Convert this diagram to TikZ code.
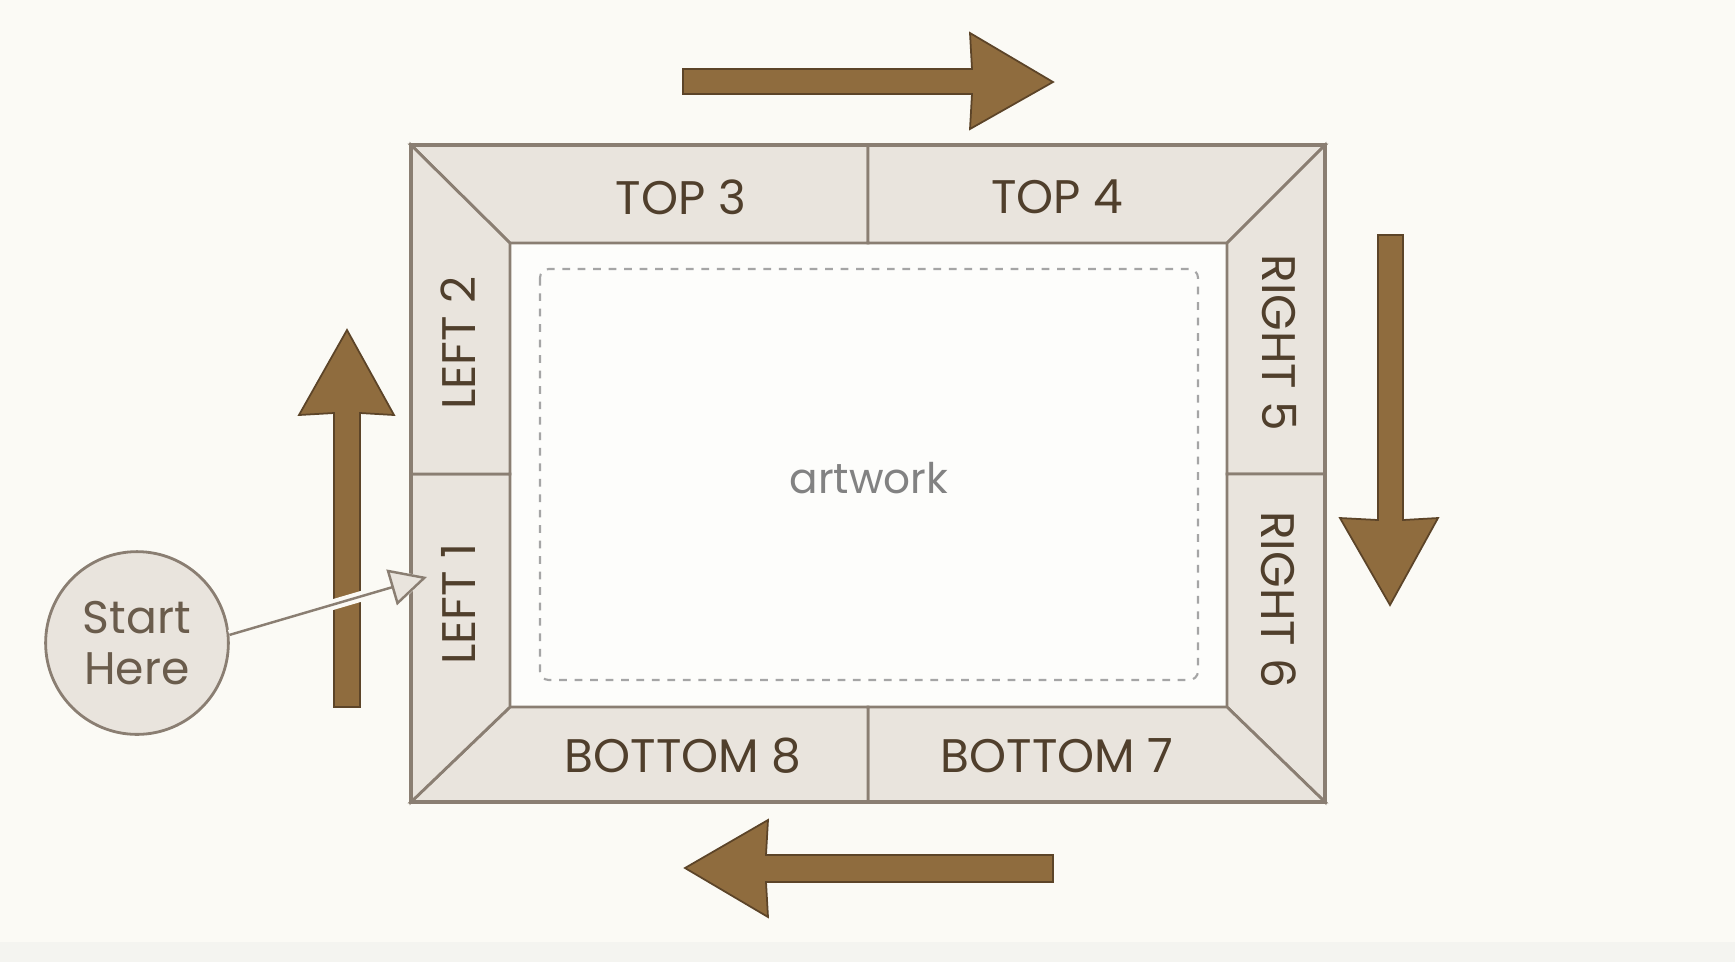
\documentclass[tikz,border=0pt]{standalone}
\usepackage{fontspec}
\setmainfont{Poppins}
\usepackage{xcolor}
\usetikzlibrary{
    arrows.meta,
    positioning
}
\definecolor{bgcrm}{RGB}{251,250,245}
\definecolor{bgstrip}{RGB}{244,244,240}
\definecolor{frmfill}{RGB}{233,228,221}
\definecolor{frmline}{RGB}{138,126,114}
\definecolor{arrbrn}{RGB}{143,108,62}
\definecolor{arrdrk}{RGB}{92,68,40}
\definecolor{lbltxt}{RGB}{80,63,44}
\definecolor{artgry}{RGB}{130,130,130}
\definecolor{dshgry}{RGB}{165,165,165}
\tikzset{
    frmpc/.style={fill=frmfill, draw=frmline, line width=0.8pt, line join=miter},
    flwarr/.style={fill=arrbrn, draw=arrdrk, line width=0.5pt, line join=miter},
    lbl/.style={inner sep=0pt, text=lbltxt, font=\fontsize{13.4}{15}\selectfont},
    strt/.style={circle, minimum size=52pt, inner sep=0pt, fill=frmfill, draw=frmline, line width=0.8pt,
        text=lbltxt!85, align=center, font=\fontsize{13}{14.5}\selectfont}
}

\begin{document}
\begin{tikzpicture}[x=0.1mm, y=-0.1mm]
    \useasboundingbox (0, 0) rectangle (1735, 962);
    \fill[bgcrm] (0, 0) rectangle (1735, 962);
    \fill[bgstrip] (0, 942) rectangle (1735, 962);

    % frame corners
    \coordinate (otl) at (411, 145);
    \coordinate (otr) at (1325, 145);
    \coordinate (obr) at (1325, 802);
    \coordinate (obl) at (411, 802);
    \coordinate (itl) at (510, 243);
    \coordinate (itr) at (1227, 243);
    \coordinate (ibr) at (1227, 707);
    \coordinate (ibl) at (510, 707);

    \fill[white!60!bgcrm] (itl) rectangle (ibr);

    % the eight pieces
    \draw[frmpc] (otl) -- (868, 145) -- (868, 243) -- (itl) -- cycle;
    \draw[frmpc] (868, 145) -- (otr) -- (itr) -- (868, 243) -- cycle;
    \draw[frmpc] (otr) -- (1325, 474) -- (1227, 474) -- (itr) -- cycle;
    \draw[frmpc] (1325, 474) -- (obr) -- (ibr) -- (1227, 474) -- cycle;
    \draw[frmpc] (obr) -- (868, 802) -- (868, 707) -- (ibr) -- cycle;
    \draw[frmpc] (868, 802) -- (obl) -- (ibl) -- (868, 707) -- cycle;
    \draw[frmpc] (obl) -- (411, 474) -- (510, 474) -- (ibl) -- cycle;
    \draw[frmpc] (411, 474) -- (otl) -- (itl) -- (510, 474) -- cycle;
    \draw[frmline, line width=1pt] (otl) rectangle (obr);

    \draw[dshgry, line width=0.6pt, dash pattern=on 2.2pt off 2.2pt, rounded corners=2.5pt]
        (540, 269) rectangle (1198, 680);
    \node[text=artgry, font=\fontsize{12}{14}\selectfont] (art) at (869, 478) {artwork};

    \node[lbl] (top3) at (681, 197) {TOP 3};
    \node[lbl] (top4) at (1057, 197) {TOP 4};
    \node[lbl, rotate=-90] (rgt5) at (1279, 343) {RIGHT 5};
    \node[lbl, rotate=-90] (rgt6) at (1279, 600) {RIGHT 6};
    \node[lbl] (bot7) at (1057, 756) {BOTTOM 7};
    \node[lbl] (bot8) at (683, 756) {BOTTOM 8};
    \node[lbl, rotate=90] (lft1) at (458, 604) {LEFT 1};
    \node[lbl, rotate=90] (lft2) at (458, 343) {LEFT 2};

    % direction arrows
    \draw[flwarr] (683, 69) -- (972, 69) -- (970, 33) -- (1053, 82) -- (970, 129) -- (972, 94) -- (683, 94) -- cycle;
    \draw[flwarr] (1378, 235) -- (1403, 235) -- (1403, 520) -- (1438, 518) -- (1390, 605) -- (1340, 518) -- (1378, 520) -- cycle;
    \draw[flwarr] (1053, 855) -- (1053, 882) -- (766, 882) -- (768, 917) -- (685, 868) -- (768, 820) -- (766, 855) -- cycle;
    \draw[flwarr] (334, 707) -- (334, 413) -- (299, 415) -- (347, 330) -- (394, 415) -- (360, 413) -- (360, 707) -- cycle;

    \node[strt] (start) at (137, 643) {Start\\Here};
    \coordinate (lftpt) at (427, 577);
    \draw[frmline, line width=0.7pt, preaction={draw=bgcrm, line width=3pt},
        -{Triangle[length=10.5pt, width=10.5pt, fill=frmfill]}] (start.5) -- (lftpt);
\end{tikzpicture}
\end{document}
